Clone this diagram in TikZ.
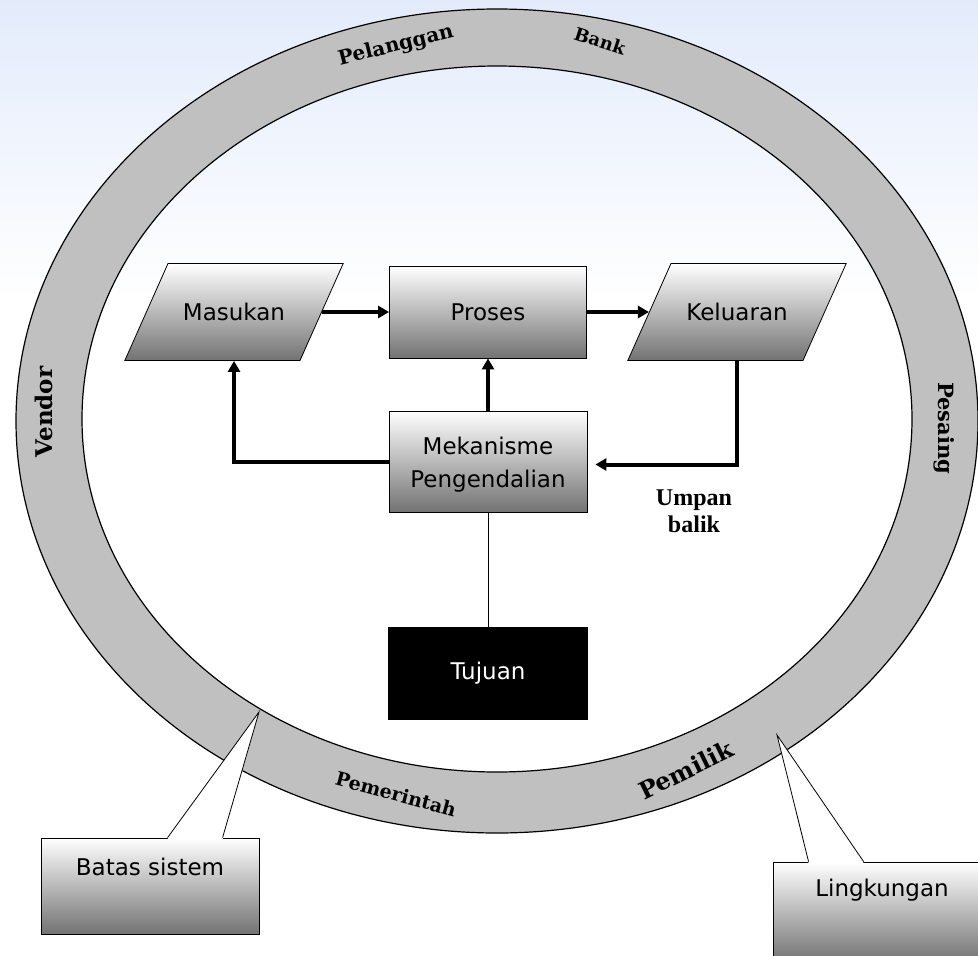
\documentclass[tikz,border=0pt]{standalone}
\usepackage{fontspec}
\setmainfont{DejaVu Sans}
\newfontfamily\ringfont{DejaVu Serif}
\newfontfamily\notefont{Liberation Serif}
\usetikzlibrary{shapes.geometric,arrows.meta}
\definecolor{ringgray}{HTML}{C0C0C0}
\definecolor{bgblue}{HTML}{E3EBFB}

\begin{document}
\begin{tikzpicture}[x=1pt,y=-1pt]
	\clip (0,0) rectangle (978,956);
	\shade[top color=bgblue,bottom color=white] (0,0) rectangle (978,300);
	% ring of the environment
	\fill[ringgray,even odd rule] (497,421) ellipse [x radius=481,y radius=412] (497,419) ellipse [x radius=415,y radius=353];
	\draw[line width=1.2pt] (497,421) ellipse [x radius=481,y radius=412];
	\draw[line width=1.2pt] (497,419) ellipse [x radius=415,y radius=353];
	\begin{scope}
		\tikzstyle{every node}=[font=\ringfont\bfseries,inner sep=0pt];
		\path (396,46)  node [rotate=14, font=\ringfont\bfseries\fontsize{20pt}{20pt}\selectfont] (pelanggan)  {Pelanggan};
		\path (600,41)  node [rotate=-18,font=\ringfont\bfseries\fontsize{18pt}{18pt}\selectfont] (bank)       {Bank};
		\path (44,412)  node [rotate=90, font=\ringfont\bfseries\fontsize{23pt}{23pt}\selectfont] (vendor)     {Vendor};
		\path (944,428) node [rotate=-90,font=\ringfont\bfseries\fontsize{21pt}{21pt}\selectfont] (pesaing)    {Pesaing};
		\path (396,794) node [rotate=-15,font=\ringfont\bfseries\fontsize{19pt}{19pt}\selectfont] (pemerintah) {Pemerintah};
		\path (686,770) node [rotate=26, font=\ringfont\bfseries\fontsize{24pt}{24pt}\selectfont] (pemilik)    {Pemilik};
	\end{scope}
	\begin{scope}
		\tikzstyle{plainbox}=[draw,line width=0.8pt,font=\fontsize{23pt}{33pt}\selectfont,align=center,inner sep=0pt];
		\tikzstyle{box}=[plainbox,top color=white,bottom color=black!55];
		\tikzstyle{slant}=[box,trapezium,trapezium left angle=66,trapezium right angle=114,text width=132pt,text height=57pt,text depth=40pt];
		\tikzstyle{flow}=[line width=4pt,-{Triangle[length=11pt,width=12pt]}];
		\path (234,312) node [slant] (masukan) {Masukan};
		\path (488,312) node [box,minimum width=197pt,minimum height=92pt] (proses) {Proses};
		\path (737,312) node [slant] (keluaran) {Keluaran};
		\path (488,461.5) node [box,minimum width=198pt,minimum height=101pt,text height=56pt] (mek) {Mekanisme\\Pengendalian};
		\path (488,673) node [plainbox,fill=black,text=white,minimum width=199pt,minimum height=92pt] (tujuan) {Tujuan};
		\path (694,511) node [font=\notefont\bfseries\fontsize{24pt}{27pt}\selectfont,align=center] (umpan) {Umpan\\balik};
		\draw[flow] (masukan.east) -- (masukan.east -| proses.west);
		\draw[flow] (proses.east) -- (proses.east -| keluaran.west);
		\draw[flow] (mek.north) -- (proses.south);
		\draw[flow] (mek.west) -| (masukan.south);
		\draw[flow] (keluaran.south) |- ([xshift=8pt,yshift=-3pt]mek.east);
		\draw[line width=0.8pt] (mek) -- (tujuan);
		% callouts
		\tikzstyle{callbox}=[box,minimum width=218pt,minimum height=96pt];
		\path (150,886) node [callbox,text depth=39pt] (batas) {Batas sistem};
		\path (882,912) node [callbox,minimum height=100pt,text depth=48pt] (lingkungan) {Lingkungan};
		\coordinate (batastip) at (259,712);
		\coordinate (lingtip) at (777,735);
		\fill[white] (batastip) -- ([xshift=127pt,yshift=-1.5pt]batas.north west) -- ([xshift=182pt,yshift=-1.5pt]batas.north west) -- cycle;
		\draw[line width=0.8pt] ([xshift=127pt]batas.north west) -- (batastip) -- ([xshift=182pt]batas.north west);
		\fill[white] (lingtip) -- ([xshift=36pt,yshift=-1.5pt]lingkungan.north west) -- ([xshift=91pt,yshift=-1.5pt]lingkungan.north west) -- cycle;
		\draw[line width=0.8pt] ([xshift=36pt]lingkungan.north west) -- (lingtip) -- ([xshift=91pt]lingkungan.north west);
	\end{scope}
\end{tikzpicture}
\end{document}
